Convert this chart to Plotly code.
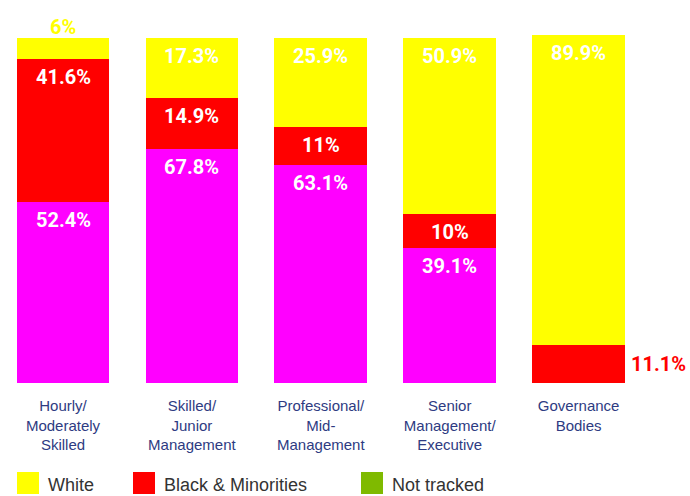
import plotly.graph_objects as go

# Workforce composition by level (percent of each group)
categories = [
    "Hourly/<br>Moderately<br>Skilled",
    "Skilled/<br>Junior<br>Management",
    "Professional/<br>Mid-<br>Management",
    "Senior<br>Management/<br>Executive",
    "Governance<br>Bodies",
]
other_pct = [52.4, 67.8, 63.1, 39.1, 0.0]
minority_pct = [41.6, 14.9, 11.0, 10.0, 11.1]
white_pct = [6.0, 17.3, 25.9, 50.9, 89.9]

legend_names = ["White", "Black & Minorities", "Not tracked"]

# Layout geometry (pixels)
W, H = 690, 496
TOP, BOTTOM = 10, 113
PLOT_H = H - TOP - BOTTOM
PX_PER_PCT = 3.45
Y_MAX = PLOT_H / PX_PER_PCT
BAR_PITCH = 128.9
FIRST_CENTER = 63

YELLOW, RED, MAGENTA, GREEN = "#FFFF00", "#FF0000", "#FF00FF", "#7FBA00"
legend_colors = [YELLOW, RED, GREEN]

series = [
    ("Other", other_pct, MAGENTA),
    ("Black & Minorities", minority_pct, RED),
    ("White", white_pct, YELLOW),
]

# Labels that sit outside their segment
outside = {("White", 0): "above", ("Black & Minorities", 4): "right"}

fig = go.Figure()
for name, vals, color in series:
    fig.add_trace(go.Bar(
        x=categories, y=vals, name=name, marker_color=color,
        marker_line_width=0, showlegend=False, hoverinfo="skip",
    ))

label_font = dict(family="Roboto, Arial, sans-serif", size=20, weight="bold")
annotations = []
base = [0.0] * len(categories)
for name, vals, color in series:
    for i, v in enumerate(vals):
        if not v:
            continue
        top = base[i] + v
        text = f"{v:g}%"
        mode = outside.get((name, i))
        if mode == "above":
            annotations.append(dict(x=categories[i], y=top, text=text, showarrow=False,
                                    yanchor="bottom", yshift=-3,
                                    font=dict(label_font, color=color)))
        elif mode == "right":
            annotations.append(dict(x=i + 0.36, y=base[i] + v / 2, text=text, showarrow=False,
                                    xanchor="left", xshift=4,
                                    font=dict(label_font, color=color)))
        else:
            annotations.append(dict(x=categories[i], y=top, text=text, showarrow=False,
                                    yanchor="middle", yshift=-18,
                                    font=dict(label_font, color="#FFFFFF")))
        base[i] = top

# Legend drawn as swatches with captions below the chart
def ypaper(py):
    return (H - BOTTOM - py) / PLOT_H

shapes = []
swatch_x = [17, 133, 361]
for x0, name, color in zip(swatch_x, legend_names, legend_colors):
    shapes.append(dict(type="rect", xref="paper", yref="paper",
                       x0=x0 / W, x1=(x0 + 22) / W, y0=ypaper(494), y1=ypaper(472),
                       fillcolor=color, line_width=0))
    annotations.append(dict(xref="paper", yref="paper", x=(x0 + 29) / W, y=ypaper(485),
                            text=name, showarrow=False, xanchor="left", yanchor="middle",
                            font=dict(family="Liberation Sans, Arial, sans-serif", size=18,
                                      color="#333333")))

x0 = -FIRST_CENTER / BAR_PITCH
fig.update_layout(
    width=W, height=H,
    margin=dict(l=0, r=0, t=TOP, b=BOTTOM),
    barmode="stack", bargap=0.28,
    plot_bgcolor="white", paper_bgcolor="white",
    showlegend=False,
    xaxis=dict(range=[x0, x0 + W / BAR_PITCH], showgrid=False, zeroline=False,
               showline=False, ticks="", fixedrange=True, ticklabelstandoff=12,
               tickfont=dict(family="Liberation Sans Narrow, Arial Narrow, sans-serif",
                             size=15, color="#2E3B82")),
    yaxis=dict(range=[0, Y_MAX], visible=False, fixedrange=True),
    annotations=annotations,
    shapes=shapes,
)

fig.write_html("out.html", config={"displayModeBar": False})
